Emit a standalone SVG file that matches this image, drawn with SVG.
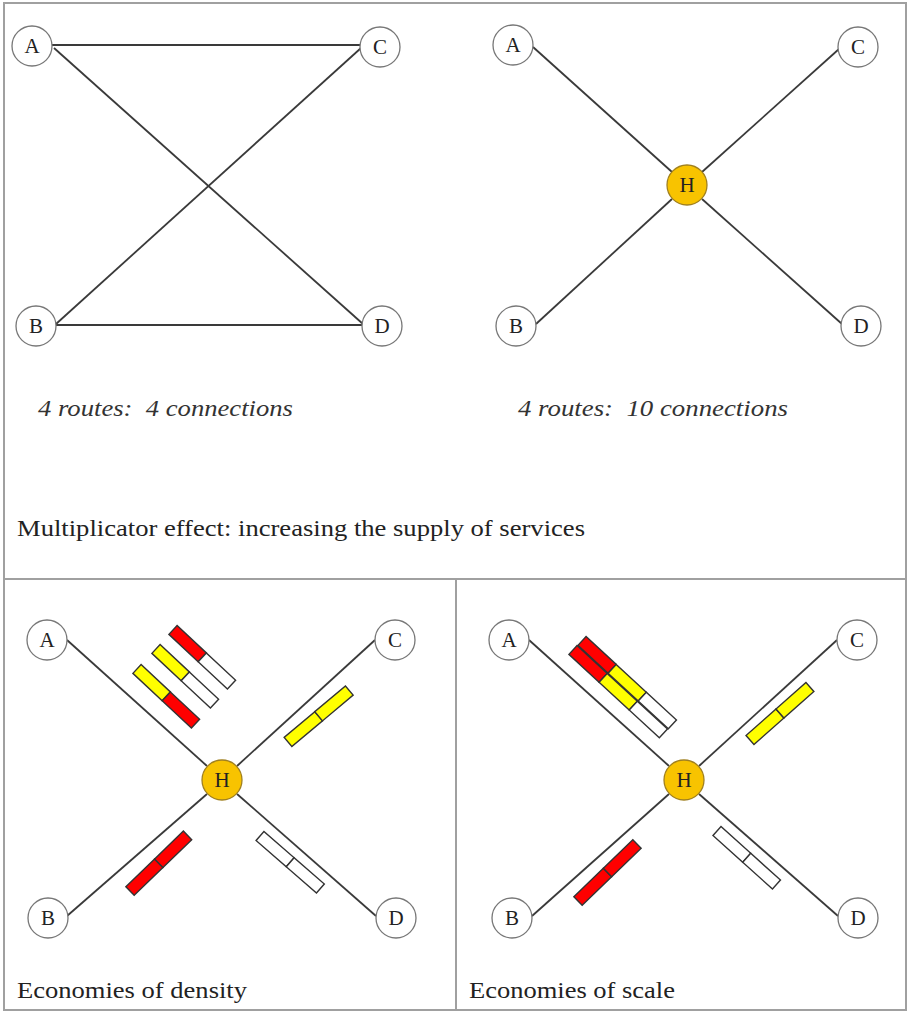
<svg xmlns="http://www.w3.org/2000/svg" width="909" height="1012" viewBox="0 0 909 1012">
<style>
.frame{fill:none;stroke:#a0a0a0;stroke-width:2}
.ln{stroke:#3a3a3a;stroke-width:1.8;fill:none}
.nd{fill:#fff;stroke:#777;stroke-width:1.3}
.hub{fill:#f8c300;stroke:#a08020;stroke-width:1.3}
.lt{font-size:21px;fill:#222;text-anchor:middle;dominant-baseline:central}
.cap{font-size:24px;fill:#222}
.it{font-size:23px;font-style:italic;fill:#333}
.r{fill:#ff0000;stroke:#333;stroke-width:1.4}
.y{fill:#ffff00;stroke:#333;stroke-width:1.4}
.w{fill:#fff;stroke:#333;stroke-width:1.4}
</style>
<g font-family="Liberation Serif, Times New Roman, serif">
<rect class="frame" x="4" y="3" width="902" height="1007"/>
<line class="frame" x1="4" y1="579" x2="906" y2="579"/>
<line class="frame" x1="456" y1="579" x2="456" y2="1010"/>

<g id="connectors">
  <line class="ln" x1="52" y1="45" x2="360" y2="45"/>
  <line class="ln" x1="54" y1="48" x2="363" y2="324"/>
  <line class="ln" x1="361" y1="48" x2="56" y2="324"/>
  <line class="ln" x1="56" y1="325" x2="363" y2="325"/>

  <line class="ln" x1="533" y1="47" x2="672" y2="172"/>
  <line class="ln" x1="839" y1="49" x2="702" y2="172"/>
  <line class="ln" x1="536" y1="324" x2="672" y2="199"/>
  <line class="ln" x1="842" y1="324" x2="702" y2="199"/>

  <line class="ln" x1="67" y1="640" x2="207" y2="766"/>
  <line class="ln" x1="375" y1="640" x2="237" y2="766"/>
  <line class="ln" x1="67" y1="916" x2="207" y2="794"/>
  <line class="ln" x1="376" y1="916" x2="237" y2="794"/>

  <line class="ln" x1="529" y1="640" x2="669" y2="766"/>
  <line class="ln" x1="837" y1="640" x2="699" y2="766"/>
  <line class="ln" x1="532" y1="916" x2="669" y2="794"/>
  <line class="ln" x1="838" y1="916" x2="699" y2="794"/>
</g>

<g id="tl-A"><circle class="nd" cx="32" cy="46" r="20"/><text class="lt" x="32" y="46">A</text></g>
<g id="tl-C"><circle class="nd" cx="380" cy="47" r="20"/><text class="lt" x="380" y="47">C</text></g>
<g id="tl-B"><circle class="nd" cx="36" cy="326" r="20"/><text class="lt" x="36" y="326">B</text></g>
<g id="tl-D"><circle class="nd" cx="382" cy="326" r="20"/><text class="lt" x="382" y="326">D</text></g>

<g id="tr-A"><circle class="nd" cx="513" cy="45" r="20"/><text class="lt" x="513" y="45">A</text></g>
<g id="tr-C"><circle class="nd" cx="858" cy="47" r="20"/><text class="lt" x="858" y="47">C</text></g>
<g id="tr-B"><circle class="nd" cx="516" cy="326" r="20"/><text class="lt" x="516" y="326">B</text></g>
<g id="tr-D"><circle class="nd" cx="861" cy="326" r="20"/><text class="lt" x="861" y="326">D</text></g>
<g id="tr-H"><circle class="hub" cx="687" cy="185" r="20"/><text class="lt" x="687" y="185">H</text></g>

<g id="bl-A"><circle class="nd" cx="47" cy="640" r="20"/><text class="lt" x="47" y="640">A</text></g>
<g id="bl-C"><circle class="nd" cx="395" cy="640" r="20"/><text class="lt" x="395" y="640">C</text></g>
<g id="bl-B"><circle class="nd" cx="48" cy="918" r="20"/><text class="lt" x="48" y="918">B</text></g>
<g id="bl-D"><circle class="nd" cx="396" cy="918" r="20"/><text class="lt" x="396" y="918">D</text></g>
<g id="bl-H"><circle class="hub" cx="222" cy="780" r="20"/><text class="lt" x="222" y="780">H</text></g>

<g id="br-A"><circle class="nd" cx="509" cy="640" r="20"/><text class="lt" x="509" y="640">A</text></g>
<g id="br-C"><circle class="nd" cx="857" cy="640" r="20"/><text class="lt" x="857" y="640">C</text></g>
<g id="br-B"><circle class="nd" cx="512" cy="918" r="20"/><text class="lt" x="512" y="918">B</text></g>
<g id="br-D"><circle class="nd" cx="858" cy="918" r="20"/><text class="lt" x="858" y="918">D</text></g>
<g id="br-H"><circle class="hub" cx="684" cy="780" r="20"/><text class="lt" x="684" y="780">H</text></g>

<g id="bl-bars">
  <g transform="translate(173,630) rotate(43)"><rect class="r" x="0" y="-6" width="40" height="12"/><rect class="w" x="40" y="-6" width="40" height="12"/></g>
  <g transform="translate(156,649) rotate(43)"><rect class="y" x="0" y="-6" width="40" height="12"/><rect class="w" x="40" y="-6" width="40" height="12"/></g>
  <g transform="translate(137,669) rotate(43)"><rect class="y" x="0" y="-6" width="40" height="12"/><rect class="r" x="40" y="-6" width="40" height="12"/></g>
  <g transform="translate(288,742) rotate(-40)"><rect class="y" x="0" y="-6" width="40" height="12"/><rect class="y" x="40" y="-6" width="40" height="12"/></g>
  <g transform="translate(130,891) rotate(-44)"><rect class="r" x="0" y="-6" width="40" height="12"/><rect class="r" x="40" y="-6" width="40" height="12"/></g>
  <g transform="translate(260,836) rotate(41)"><rect class="w" x="0" y="-6" width="40" height="12"/><rect class="w" x="40" y="-6" width="40" height="12"/></g>
</g>

<g id="br-bars">
  <g transform="translate(582,641) rotate(42.7)"><rect class="r" x="0" y="-6" width="41" height="12"/><rect class="y" x="41" y="-6" width="41" height="12"/><rect class="w" x="82" y="-6" width="41" height="12"/></g>
  <g transform="translate(573,650) rotate(42.7)"><rect class="r" x="0" y="-6" width="41" height="12"/><rect class="y" x="41" y="-6" width="41" height="12"/><rect class="w" x="82" y="-6" width="41" height="12"/></g>
  <g transform="translate(750,740) rotate(-41.5)"><rect class="y" x="0" y="-6" width="40" height="12"/><rect class="y" x="40" y="-6" width="40" height="12"/></g>
  <g transform="translate(578,901) rotate(-44)"><rect class="r" x="0" y="-6" width="41" height="12"/><rect class="r" x="41" y="-6" width="41" height="12"/></g>
  <g transform="translate(717,831) rotate(42)"><rect class="w" x="0" y="-6" width="40" height="12"/><rect class="w" x="40" y="-6" width="40" height="12"/></g>
</g>

<g id="labels">
  <text class="it" x="38" y="416" textLength="255" lengthAdjust="spacingAndGlyphs" xml:space="preserve">4 routes:  4 connections</text>
  <text class="it" x="518" y="416" textLength="270" lengthAdjust="spacingAndGlyphs" xml:space="preserve">4 routes:  10 connections</text>
  <text class="cap" x="17" y="536" textLength="568" lengthAdjust="spacingAndGlyphs">Multiplicator effect: increasing the supply of services</text>
  <text class="cap" x="17" y="998" textLength="230" lengthAdjust="spacingAndGlyphs">Economies of density</text>
  <text class="cap" x="469" y="998" textLength="206" lengthAdjust="spacingAndGlyphs">Economies of scale</text>
</g>
</g>
</svg>
